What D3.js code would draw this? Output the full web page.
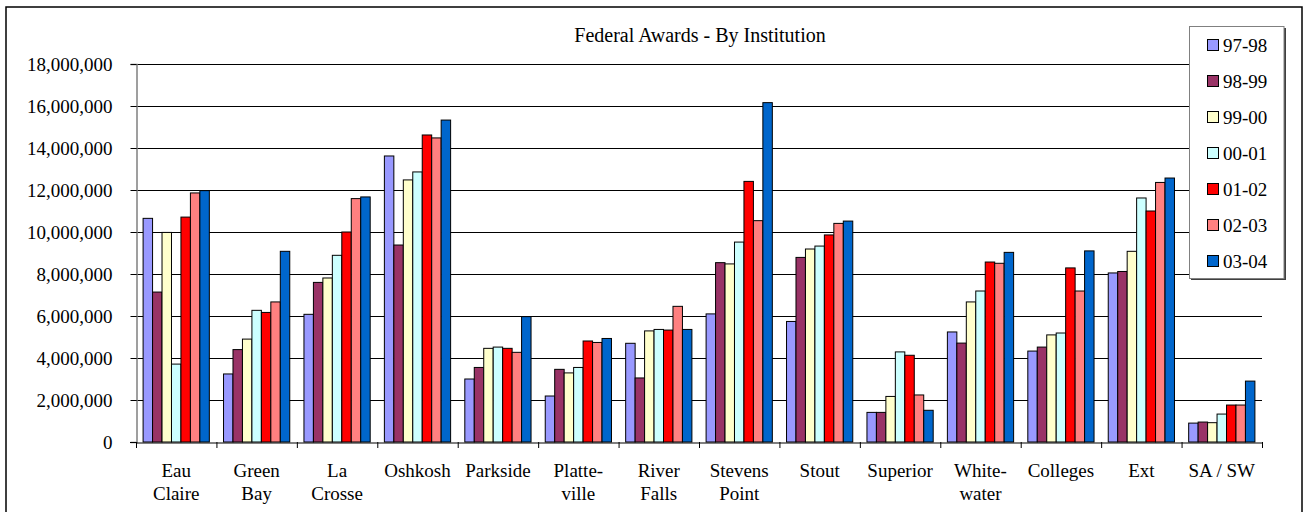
<!DOCTYPE html>
<html>
<head>
<meta charset="utf-8">
<script src="https://cdn.jsdelivr.net/npm/d3@7"></script>
<style>
  html, body { margin: 0; padding: 0; background: #fff; }
  svg { display: block; }
  svg text { font-family: "Liberation Serif", "Times New Roman", serif !important; }
</style>
</head>
<body>
<svg id="chart" width="1305" height="512"></svg>
<script>
const categories = ["Eau Claire","Green Bay","La Crosse","Oshkosh","Parkside","Platte-ville","River Falls","Stevens Point","Stout","Superior","White-water","Colleges","Ext","SA / SW"];
const categoryLines = [["Eau","Claire"],["Green","Bay"],["La","Crosse"],["Oshkosh"],["Parkside"],["Platte-","ville"],["River","Falls"],["Stevens","Point"],["Stout"],["Superior"],["White-","water"],["Colleges"],["Ext"],["SA / SW"]];
const seriesNames = ["97-98","98-99","99-00","00-01","01-02","02-03","03-04"];
const seriesColors = ["#9999FF","#993366","#FFFFCC","#CCFFFF","#FF0000","#FF8080","#0066CC"];

const s9798 = [10650000,3240000,6080000,13620000,3000000,2190000,4700000,6100000,5740000,1410000,5240000,4330000,8050000,900000];
const s9899 = [7140000,4400000,7600000,9380000,3550000,3460000,3050000,8540000,8790000,1410000,4710000,4520000,8120000,950000];
const s9900 = [9980000,4900000,7810000,12480000,4460000,3290000,5290000,8480000,9190000,2170000,6670000,5100000,9080000,920000];
const s0001 = [3710000,6270000,8890000,12860000,4520000,3550000,5360000,9520000,9330000,4290000,7190000,5190000,11620000,1330000];
const s0102 = [10710000,6170000,10000000,14620000,4460000,4810000,5330000,12410000,9860000,4130000,8570000,8290000,11000000,1760000];
const s0203 = [11860000,6670000,11590000,14480000,4270000,4740000,6460000,10540000,10410000,2240000,8510000,7190000,12360000,1760000];
const s0304 = [11970000,9080000,11670000,15330000,5970000,4930000,5360000,16160000,10520000,1510000,9030000,9100000,12570000,2900000];
const seriesValues = [s9798,s9899,s9900,s0001,s0102,s0203,s0304];

const yTicks = [0,2000000,4000000,6000000,8000000,10000000,12000000,14000000,16000000,18000000];
const title = "Federal Awards - By Institution";

const FONT = "'Liberation Serif', 'Times New Roman', serif";
const svg = d3.select("#chart").attr("font-family", FONT);
const plot = {left: 136, right: 1262, top: 64, bottom: 442};

// outer border
svg.append("rect").attr("x",6).attr("y",7).attr("width",1296).attr("height",520)
  .attr("fill","#fff").attr("stroke","#000").attr("stroke-width",1.5);

const x0 = d3.scaleBand().domain(categories).range([plot.left, plot.right]).paddingInner(0).paddingOuter(0);
const x1 = d3.scaleBand().domain(seriesNames).range([0, x0.bandwidth()]).paddingInner(0).paddingOuter(0.75);
const y = d3.scaleLinear().domain([0, 18000000]).range([plot.bottom, plot.top]);

// gridlines
svg.append("g").selectAll("line").data(yTicks.filter(d=>d>0)).join("line")
  .attr("x1", plot.left).attr("x2", plot.right)
  .attr("y1", d=>Math.round(y(d))+0.5).attr("y2", d=>Math.round(y(d))+0.5)
  .attr("stroke","#000").attr("stroke-width",1.2);

// y axis
const yAxis = d3.axisLeft(y).tickValues(yTicks).tickSize(6).tickPadding(18)
  .tickFormat(d3.format(","));
const gy = svg.append("g").attr("transform",`translate(${plot.left+0.5},0)`).call(yAxis)
  .attr("font-family", FONT).attr("font-size", 19);
gy.select(".domain").attr("stroke","#808080").attr("stroke-width",1.5);
gy.selectAll(".tick line").attr("stroke","#000");
gy.selectAll(".tick text").attr("font-size","19px").attr("fill","#000")
  .attr("font-family", FONT).attr("dy","0.36em");

// bars
const groups = svg.append("g").selectAll("g").data(seriesNames).join("g")
  .attr("fill",(d,i)=>seriesColors[i]);
groups.each(function(sName, si){
  d3.select(this).selectAll("rect").data(seriesValues[si]).join("rect")
    .attr("x",(v,ci)=>x0(categories[ci]) + x1(sName))
    .attr("width", x1.bandwidth())
    .attr("y", v=>y(v))
    .attr("height", v=>y(0)-y(v))
    .attr("stroke","#000").attr("stroke-width",1);
});

// x axis
const xAxis = d3.axisBottom(x0).tickSize(0).tickFormat("");
const gx = svg.append("g").attr("transform",`translate(0,${plot.bottom+0.5})`).call(xAxis);
gx.select(".domain").attr("stroke","#000").attr("stroke-width",1.2);
// boundary ticks
const bounds = categories.map(c=>x0(c)).concat([plot.right]);
svg.append("g").selectAll("line").data(bounds).join("line")
  .attr("x1",d=>d+0.5).attr("x2",d=>d+0.5).attr("y1",plot.bottom).attr("y2",plot.bottom+6)
  .attr("stroke","#000").attr("stroke-width",1);
svg.append("line").attr("x1",plot.left-6).attr("x2",plot.left).attr("y1",plot.bottom+0.5).attr("y2",plot.bottom+0.5).attr("stroke","#000");

// category labels
const lab = svg.append("g").attr("font-size","19px").attr("font-family", FONT).attr("text-anchor","middle").attr("fill","#000");
categories.forEach((c,i)=>{
  const t = lab.append("text").attr("x", x0(c)+x0.bandwidth()/2).attr("y",477).attr("font-family", FONT);
  categoryLines[i].forEach((ln,j)=>{
    t.append("tspan").attr("x", x0(c)+x0.bandwidth()/2).attr("dy", j===0?0:23).text(ln);
  });
});

// title
svg.append("text").attr("x",700).attr("y",42).attr("text-anchor","middle").attr("font-family", FONT)
  .attr("font-size","20px").attr("fill","#000").text(title);

// legend
const lg = svg.append("g").attr("font-family", FONT);
lg.append("rect").attr("x",1191).attr("y",28).attr("width",95).attr("height",252).attr("fill","#404040");
lg.append("rect").attr("x",1189.5).attr("y",26.5).attr("width",94.5).attr("height",252).attr("fill","#fff").attr("stroke","#808080").attr("stroke-width",1);
seriesNames.forEach((s,i)=>{
  const cy = 45 + i*36;
  lg.append("rect").attr("x",1207.5).attr("y",cy-5.5).attr("width",11).attr("height",11)
    .attr("fill",seriesColors[i]).attr("stroke","#000").attr("stroke-width",1);
  lg.append("text").attr("x",1223).attr("y",cy+7).attr("font-size","19px").attr("fill","#000").text(s);
});
</script>
</body>
</html>
